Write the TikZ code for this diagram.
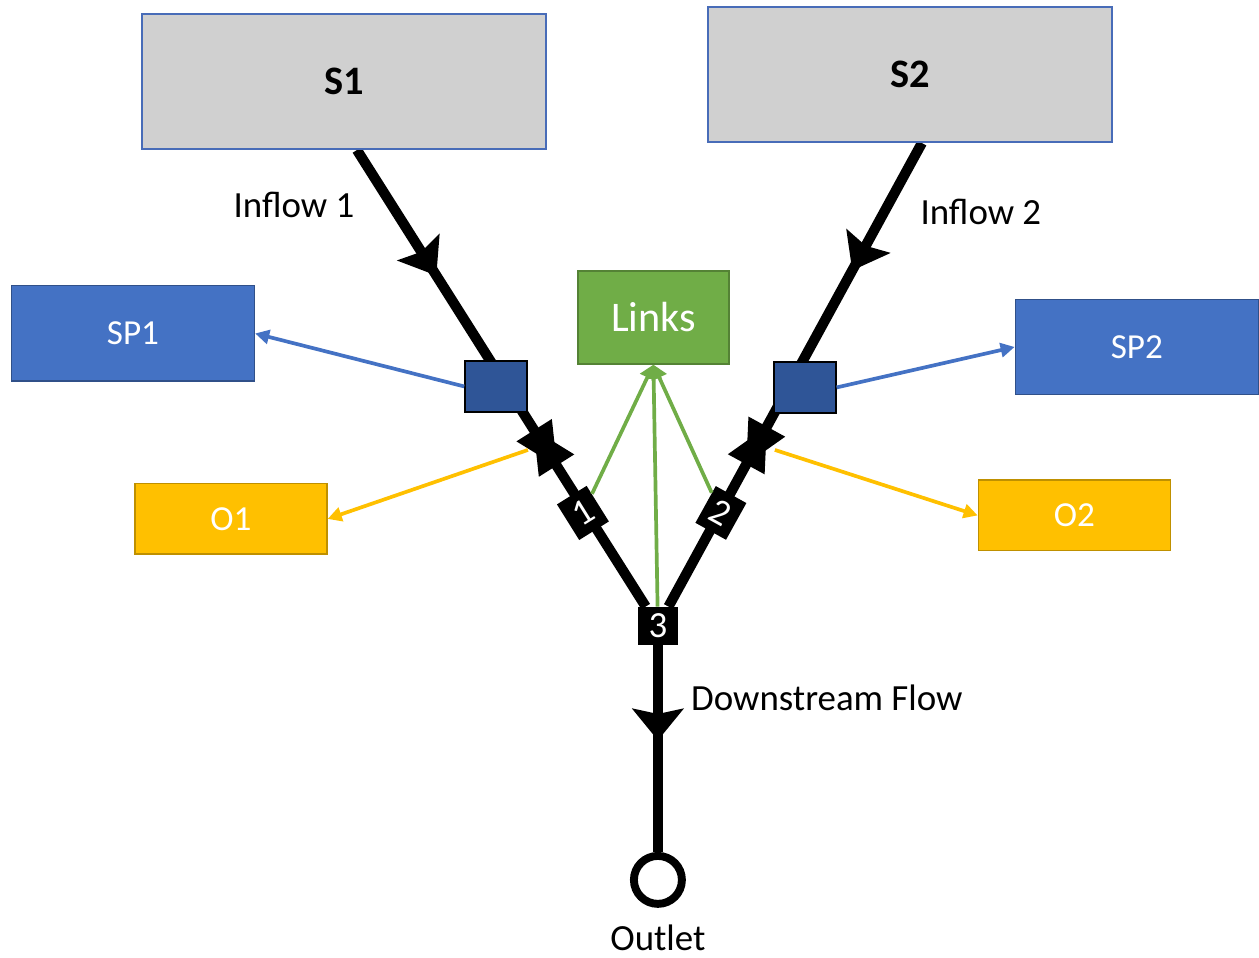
\documentclass[tikz,border=0pt]{standalone}
\usepackage{fontspec}
\setmainfont{Carlito}
\usepackage{tikz}
\usetikzlibrary{arrows.meta, positioning, backgrounds, decorations.markings}
\definecolor{grisfuente}{RGB}{208,208,208}
\definecolor{bordefuente}{RGB}{72,108,184}
\definecolor{azulsp}{RGB}{68,114,196}
\definecolor{azulnodo}{RGB}{47,85,151}
\definecolor{verdelinks}{RGB}{112,173,71}
\definecolor{amarillo}{RGB}{255,192,0}

\begin{document}
\begin{tikzpicture}[x=0.02cm, y=-0.02cm,
    source/.style={rectangle, draw=bordefuente, line width=1.2pt, fill=grisfuente,
                   minimum width=8.08cm, minimum height=2.7cm,
                   font=\fontsize{23}{28}\selectfont\bfseries},
    spbox/.style={rectangle, draw=azulsp!70!black, line width=0.8pt, fill=azulsp, text=white,
                  minimum width=4.86cm, minimum height=1.91cm, font=\fontsize{20}{24}\selectfont},
    obox/.style={rectangle, draw=amarillo!75!black, line width=0.8pt, fill=amarillo, text=white,
                 minimum width=3.84cm, minimum height=1.41cm, font=\fontsize{20}{24}\selectfont},
    linkbox/.style={rectangle, draw=verdelinks!75!black, line width=0.8pt, fill=verdelinks, text=white,
                    minimum width=3.02cm, minimum height=1.86cm, font=\fontsize{24}{28}\selectfont},
    junction/.style={rectangle, draw=black, line width=0.8pt, fill=azulnodo,
                     minimum width=1.24cm, minimum height=1.02cm},
    numnode/.style={rectangle, fill=black, text=white, inner sep=0pt,
                    minimum width=0.7cm, minimum height=0.84cm, font=\fontsize{21}{21}\selectfont},
    outletnode/.style={circle, draw=black, line width=4.5pt, fill=white,
                       minimum size=0.96cm, inner sep=0pt},
    textlabel/.style={inner sep=0pt, font=\fontsize{21}{25}\selectfont},
    flowline/.style={line width=5.8pt, black},
    flowmarks/.style={postaction={decorate}, decoration={markings,
        mark=at position 0.275 with {\arrow{Stealth[length=19pt, width=28pt, inset=3pt]}},
        mark=at position 0.61 with {\arrowreversed{Triangle[length=25pt, width=22pt]}},
        mark=at position 0.695 with {\arrow{Triangle[length=25pt, width=22pt]}}}},
    downmarks/.style={postaction={decorate}, decoration={markings,
        mark=at position 0.46 with {\arrow{Stealth[length=18pt, width=29pt, inset=3pt]}}}},
    sparrow/.style={-{Triangle[length=8pt, width=8pt]}, line width=2.1pt, azulsp},
    oarrow/.style={-{Triangle[length=8pt, width=8pt]}, line width=2.1pt, amarillo},
    linkarrow/.style={-{Triangle[length=8pt, width=9pt]}, line width=2.1pt, verdelinks}
]
% sources and boxes
\node (s1) [source] at (344,81.5) {S1};
\node (s2) [source] at (910.5,74.5) {S2};
\node (sp1) [spbox] at (133,333.5) {SP1};
\node (sp2) [spbox] at (1137,347) {SP2};
\node (links) [linkbox] at (653.5,317.5) {Links};
\node (o1) [obox] at (231,519) {O1};
\node (o2) [obox] at (1074.5,515.5) {O2};

% junctions on the river
\node (j1) [junction] at (496,386.5) {};
\node (j2) [junction] at (805,387.5) {};
\node (n1) [numnode, rotate=32] at (583,513) {1};
\node (n2) [numnode, rotate=-29] at (721,513) {2};
\node (n3) [numnode, minimum width=0.8cm, minimum height=0.76cm] at (658,626) {3};
\node (outlet) [outletnode] at (658,880) {};

% labels
\node (in1) [textlabel] at (294,205) {Inflow 1};
\node (in2) [textlabel] at (981,212) {Inflow 2};
\node (down) [textlabel] at (827,698) {Downstream Flow};
\node (outtxt) [textlabel] at (658,938) {Outlet};

\coordinate (s1out) at ([xshift=0.26cm]s1.south);
\coordinate (s2out) at ([xshift=0.23cm]s2.south);
\coordinate (d1) at (528,450);
\coordinate (d2) at (775,450);

\begin{scope}[on background layer]
\draw [flowline, flowmarks] (s1out) -- (n3);
\draw [flowline, flowmarks] (s2out) -- (n3);
\draw [flowline, downmarks] (n3) -- (outlet);
\end{scope}

\draw [sparrow] (j1.west) -- (sp1.east);
\draw [sparrow] (j2.east) -- (sp2.west);
\draw [oarrow] (d1) -- (o1.east);
\draw [oarrow] (d2) -- (o2.west);
\draw [linkarrow] (n1) -- (links.south);
\draw [linkarrow] (n3) -- (links.south);
\draw [linkarrow] (n2) -- (links.south);

\useasboundingbox (0,0) rectangle (1259,958);
\end{tikzpicture}
\end{document}
